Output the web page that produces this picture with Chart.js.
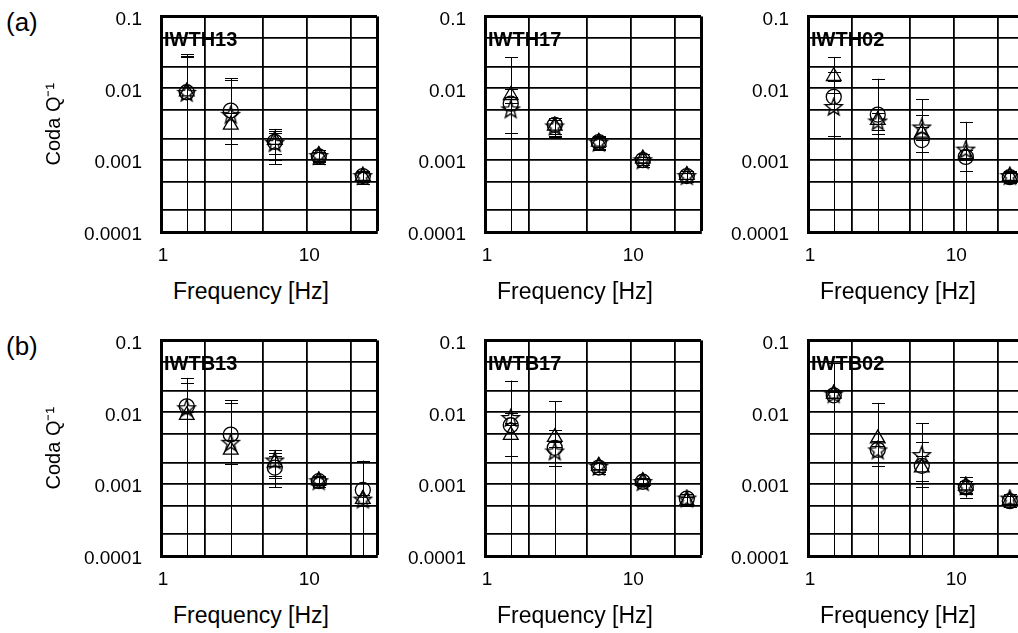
<!DOCTYPE html>
<html>
<head>
<meta charset="utf-8">
<script src="https://cdn.jsdelivr.net/npm/chart.js@4.4.1/dist/chart.umd.min.js"></script>
<style>
  body { margin: 0; width: 1018px; height: 633px; overflow: hidden; background: #fff; position: relative;
         font-family: "Liberation Sans", Arial, sans-serif; color: #000; }
  canvas { position: absolute; }
  .xtitle { position: absolute; width: 216px; text-align: center; font-size: 23px; line-height: 23px; }
  .tag { position: absolute; font-size: 26px; line-height: 26px; }
</style>
</head>
<body>
<div class="tag" style="left:6px;top:9px">(a)</div>
<div class="tag" style="left:6px;top:333px">(b)</div>
<script>
// frequencies (Hz) and axis ticks
const freqs = [1.5, 3, 6, 12, 24];
const xGrid = [1, 2, 5, 10, 20, 30];
const xLabels = [1, 10];
const yGrid = [0.0001, 0.0002, 0.0005, 0.001, 0.002, 0.005, 0.01, 0.02, 0.05, 0.1];
const yLabels = [0.0001, 0.001, 0.01, 0.1];

// Coda Q^-1 per station, rows: circle, triangle, star
const IWTH13_q   = [[0.0088, 0.0049, 0.0018, 0.00113, 0.0006], [0.009, 0.0031, 0.0019, 0.00118, 0.0006], [0.0085, 0.0042, 0.0017, 0.00112, 0.00059]];
const IWTH13_err = [[0.021, 0.009, 0.00092, 0.00025, 0.0001], [0.019, 0.0014, 0.00068, 0.0002, 0.00008], [0.0185, 0.0087, 0.0007, 0.00018, 0.00012]];

const IWTH17_q   = [[0.0061, 0.0031, 0.00178, 0.001, 0.0006], [0.008, 0.003, 0.0018, 0.00105, 0.00062], [0.005, 0.0029, 0.00172, 0.00098, 0.00059]];
const IWTH17_err = [[0.021, 0.0008, 0.0004, 0.0002, 0.0001], [0.0018, 0.0009, 0.0003, 0.00015, 0.00008], [0.0026, 0.0007, 0.0003, 0.00012, 0.00007]];

const IWTH02_q   = [[0.0076, 0.0043, 0.0019, 0.00111, 0.00058], [0.0147, 0.0036, 0.0024, 0.0012, 0.0006], [0.0054, 0.0034, 0.0028, 0.00138, 0.00059]];
const IWTH02_err = [[0.0195, 0.0093, 0.0051, 0.0023, 0.0001], [0.002, 0.001, 0.0005, 0.0002, 0.0001], [0.0032, 0.0011, 0.0015, 0.00068, 0.00008]];

const IWTB13_q   = [[0.0121, 0.0049, 0.0017, 0.0011, 0.00083], [0.0091, 0.003, 0.002, 0.00112, 0.00062], [0.0112, 0.0037, 0.0021, 0.00108, 0.0006]];
const IWTB13_err = [[0.018, 0.0098, 0.0008, 0.0002, 0.0013], [0.001, 0.0011, 0.0007, 0.00015, 0.00008], [0.014, 0.0098, 0.0009, 0.00018, 0.0001]];

const IWTB17_q   = [[0.0066, 0.0032, 0.0017, 0.00108, 0.00063], [0.0048, 0.0045, 0.0018, 0.0011, 0.00058], [0.0082, 0.0028, 0.00172, 0.00105, 0.00062]];
const IWTB17_err = [[0.021, 0.011, 0.0003, 0.00015, 0.0001], [0.0023, 0.0012, 0.0002, 0.0001, 0.00008], [0.0015, 0.001, 0.00025, 0.00012, 0.0001]];

const IWTB02_q   = [[0.0172, 0.003, 0.0018, 0.0009, 0.00058], [0.018, 0.0043, 0.0017, 0.00095, 0.0006], [0.0175, 0.0029, 0.0025, 0.00092, 0.00062]];
const IWTB02_err = [[0.031, 0.0105, 0.0053, 0.00015, 0.0001], [0.002, 0.0009, 0.0008, 0.0003, 0.00008], [0.0015, 0.0011, 0.0014, 0.0002, 0.0001]];

const panels = [
    { name: 'IWTH13', q: IWTH13_q, err: IWTH13_err, col: 0, row: 0 },
    { name: 'IWTH17', q: IWTH17_q, err: IWTH17_err, col: 1, row: 0 },
    { name: 'IWTH02', q: IWTH02_q, err: IWTH02_err, col: 2, row: 0 },
    { name: 'IWTB13', q: IWTB13_q, err: IWTB13_err, col: 0, row: 1 },
    { name: 'IWTB17', q: IWTB17_q, err: IWTB17_err, col: 1, row: 1 },
    { name: 'IWTB02', q: IWTB02_q, err: IWTB02_err, col: 2, row: 1 }
];

const colLeft = [161, 485, 808];
const rowTop = [16, 340];
const SIZE = 216;

Chart.defaults.font.family = '"Liberation Sans", Arial, sans-serif';
Chart.defaults.color = '#000';

// open five-pointed star marker
function makeStar() {
    const c = document.createElement('canvas');
    c.width = 21; c.height = 21;
    const g = c.getContext('2d');
    g.strokeStyle = '#000';
    g.lineWidth = 1.4;
    g.beginPath();
    for (let k = 0; k < 10; k++) {
        const r = k % 2 === 0 ? 9 : 3.8;
        const a = -Math.PI / 2 + k * Math.PI / 5;
        const px = 10.5 + r * Math.cos(a), py = 10.5 + r * Math.sin(a);
        if (k === 0) g.moveTo(px, py); else g.lineTo(px, py);
    }
    g.closePath();
    g.stroke();
    return c;
}
const starImg = makeStar();

const markers = [
    { style: 'circle', r: 7.5 },
    { style: 'triangle', r: 8.5 },
    { style: starImg, r: 8 }
];

// error bars, drawn through the chart scales
const errorBars = {
    id: 'errorBars',
    beforeDatasetsDraw(chart) {
        const { ctx, chartArea, scales: { x, y } } = chart;
        ctx.save();
        ctx.beginPath();
        ctx.rect(chartArea.left, chartArea.top, chartArea.width, chartArea.height);
        ctx.clip();
        ctx.strokeStyle = '#000';
        ctx.lineWidth = 1;
        chart.data.datasets.forEach(ds => {
            ds.data.forEach((p, i) => {
                const e = ds.err[i];
                const px = Math.round(x.getPixelForValue(p.x)) + 0.5;
                const hi = y.getPixelForValue(p.y + e);
                const loOk = p.y - e > 0;
                const lo = loOk ? y.getPixelForValue(p.y - e) : chartArea.bottom;
                ctx.beginPath();
                ctx.moveTo(px, hi); ctx.lineTo(px, lo);
                ctx.moveTo(px - 6.5, Math.round(hi) + 0.5); ctx.lineTo(px + 6.5, Math.round(hi) + 0.5);
                if (loOk) {
                    ctx.moveTo(px - 6.5, Math.round(lo) + 0.5); ctx.lineTo(px + 6.5, Math.round(lo) + 0.5);
                }
                ctx.stroke();
            });
        });
        ctx.restore();
    }
};

const stationLabel = {
    id: 'station',
    beforeDatasetsDraw(chart, args, opts) {
        const { ctx, chartArea } = chart;
        ctx.save();
        ctx.font = 'bold 20px "Liberation Sans", Arial, sans-serif';
        ctx.fillStyle = '#000';
        ctx.textBaseline = 'middle';
        ctx.fillText(opts.text, chartArea.left + 3, chartArea.top + 24);
        ctx.restore();
    }
};

function makeConfig(p, L) {
    return {
        type: 'scatter',
        data: {
            datasets: markers.map((m, s) => ({
                data: freqs.map((f, i) => ({ x: f, y: p.q[s][i] })),
                err: p.err[s],
                pointStyle: m.style,
                pointRadius: m.r,
                borderColor: '#000',
                backgroundColor: 'rgba(0,0,0,0)',
                borderWidth: 1.3
            }))
        },
        options: {
            responsive: false,
            maintainAspectRatio: false,
            animation: false,
            layout: { padding: 0 },
            plugins: {
                legend: { display: false },
                tooltip: { enabled: false },
                station: { text: p.name }
            },
            scales: {
                x: {
                    type: 'logarithmic',
                    min: 1,
                    max: 30,
                    afterBuildTicks: s => { s.ticks = xGrid.map(v => ({ value: v })); },
                    afterFit: s => { s.height = 40; },
                    grid: { color: '#000', lineWidth: c => (c.tick && c.tick.value === 30) ? 3 : 1.8, drawTicks: false },
                    border: { width: 3, color: '#000' },
                    ticks: {
                        autoSkip: false, maxRotation: 0, padding: 12, labelOffset: 2,
                        font: { size: 19 },
                        callback: v => xLabels.includes(v) ? String(v) : ''
                    }
                },
                y: {
                    type: 'logarithmic',
                    min: 0.0001,
                    max: 0.1,
                    afterBuildTicks: s => { s.ticks = yGrid.map(v => ({ value: v })); },
                    afterFit: s => { s.width = L; },
                    grid: { color: '#000', lineWidth: c => (c.tick && c.tick.value === 0.1) ? 3 : 1.8, drawTicks: false },
                    border: { width: 3, color: '#000' },
                    title: {
                        display: p.col === 0,
                        text: 'Coda Q⁻¹',
                        font: { size: 20 },
                        padding: { top: 1, bottom: 0 }
                    },
                    ticks: {
                        autoSkip: false, padding: 19, labelOffset: 3,
                        font: { size: 19 },
                        callback: v => yLabels.includes(v) ? String(v) : ''
                    }
                }
            }
        },
        plugins: [errorBars, stationLabel]
    };
}

panels.forEach(p => {
    const L = p.col === 0 ? 120 : 100;
    const left = colLeft[p.col], top = rowTop[p.row];

    const canvas = document.createElement('canvas');
    canvas.width = L + SIZE + 10;
    canvas.height = SIZE + 70;
    document.body.appendChild(canvas);

    // first pass to measure the plot area, then resize so it is SIZE x SIZE
    let chart = new Chart(canvas, makeConfig(p, L));
    let a = chart.chartArea;
    const w = canvas.width + Math.round(SIZE - (a.right - a.left));
    const h = canvas.height + Math.round(SIZE - (a.bottom - a.top));
    chart.destroy();
    canvas.width = w;
    canvas.height = h;
    chart = new Chart(canvas, makeConfig(p, L));
    a = chart.chartArea;
    canvas.style.left = (left - a.left) + 'px';
    canvas.style.top = (top - a.top) + 'px';

    const xt = document.createElement('div');
    xt.className = 'xtitle';
    xt.textContent = 'Frequency [Hz]';
    xt.style.left = (left - 18) + 'px';
    xt.style.top = (top + SIZE + 48) + 'px';
    document.body.appendChild(xt);
});
</script>
</body>
</html>
